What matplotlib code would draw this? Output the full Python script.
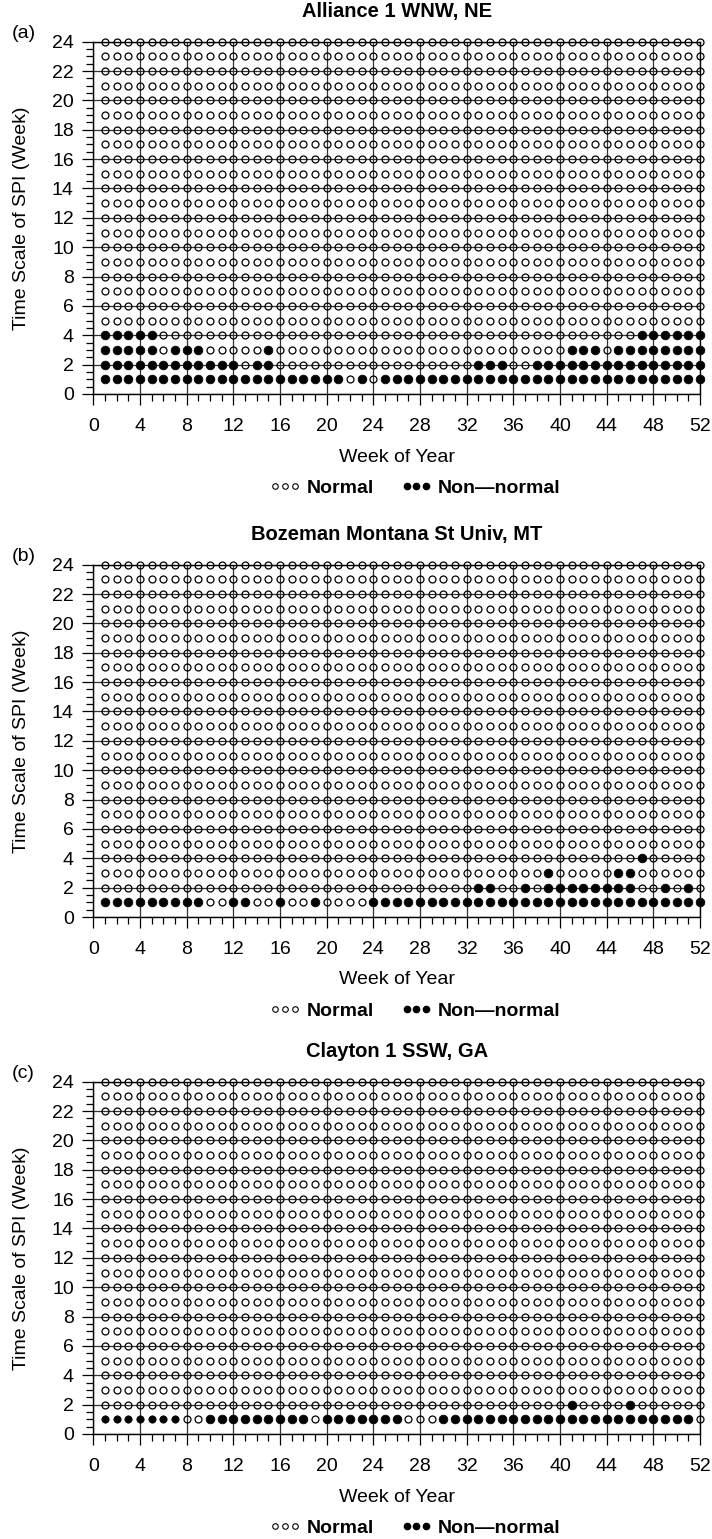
import matplotlib
matplotlib.use("Agg")
import matplotlib.pyplot as plt
from matplotlib.lines import Line2D
from matplotlib.ticker import MultipleLocator

plt.rcParams['font.family'] = ['Liberation Sans', 'DejaVu Sans']

# ---------------- data ----------------
weeks = list(range(1, 53))          # week of year
time_scales = list(range(1, 25))    # time scale of SPI (week)

panel_labels = ["(a)", "(b)", "(c)"]
titles = ["Alliance 1 WNW, NE", "Bozeman Montana St Univ, MT", "Clayton 1 SSW, GA"]
x_ticks = list(range(0, 53, 4))
y_ticks = list(range(0, 25, 2))
legend_labels = ["Normal", "Non\u2014normal"]


def span(a, b):
    return list(range(a, b + 1))


# weeks flagged non-normal, per SPI time scale (all other cells are normal)
a_scale1 = span(1, 21) + [23] + span(25, 52)
a_scale2 = span(1, 12) + [14, 15, 33, 34, 35] + span(38, 52)
a_scale3 = span(1, 5) + [7, 8, 9, 15, 41, 42, 43] + span(45, 52)
a_scale4 = span(1, 5) + span(47, 52)

b_scale1 = span(1, 9) + [12, 13, 16, 19] + span(24, 52)
b_scale2 = [33, 34, 37] + span(39, 46) + [49, 51]
b_scale3 = [39, 45, 46]
b_scale4 = [47]

c_scale1 = span(1, 7) + span(10, 18) + span(20, 26) + span(30, 51)
c_scale2 = [41, 46]
c_scale3 = []
c_scale4 = []

panels = [
    {1: a_scale1, 2: a_scale2, 3: a_scale3, 4: a_scale4},
    {1: b_scale1, 2: b_scale2, 3: b_scale3, 4: b_scale4},
    {1: c_scale1, 2: c_scale2, 3: c_scale3, 4: c_scale4},
]

# ---------------- style ----------------
# in panel (c) the first filled dots of the 1-week row are printed smaller
small_dot_cells = {2: [(w, 1) for w in span(1, 7)]}

# ---------------- layout ----------------
W, H = 712, 1539
fig = plt.figure(figsize=(W / 100, H / 100), dpi=100)

# (top, bottom) of each axes in pixels
ax_px = [(41.7, 394), (564.7, 917), (1081.7, 1434)]
left_px, right_px = 93.3, 700
FS = 14

for i, (top, bot) in enumerate(ax_px):
    ax = fig.add_axes([left_px / W, 1 - bot / H, (right_px - left_px) / W, (bot - top) / H])
    nonnormal = panels[i]
    small = set(small_dot_cells.get(i, []))

    nx, ny, fx, fy, sx, sy = [], [], [], [], [], []
    for s in time_scales:
        flagged = set(nonnormal.get(s, []))
        for w in weeks:
            if w in flagged:
                if (w, s) in small:
                    sx.append(w); sy.append(s)
                else:
                    fx.append(w); fy.append(s)
            else:
                nx.append(w); ny.append(s)

    ax.plot(nx, ny, 'o', ms=5.0, mfc='none', mec='black', mew=0.9,
            clip_on=False, zorder=3, ls='none')
    ax.plot(fx, fy, 'o', ms=6.3, mfc='black', mec='black', mew=0.5,
            clip_on=False, zorder=3, ls='none')
    if sx:
        ax.plot(sx, sy, 'o', ms=5.3, mfc='black', mec='black', mew=0.5,
                clip_on=False, zorder=3, ls='none')

    ax.set_xlim(0, 52)
    ax.set_ylim(0, 24)
    ax.set_xticks(x_ticks)
    ax.set_yticks(y_ticks)
    ax.xaxis.set_minor_locator(MultipleLocator(1))
    ax.yaxis.set_minor_locator(MultipleLocator(0.5))
    ax.tick_params(which='both', direction='out', top=False, right=False,
                   labelsize=FS, width=0.9, color='black')
    ax.tick_params(which='major', length=8)
    ax.tick_params(axis='x', which='major', pad=9)
    ax.tick_params(axis='y', which='major', pad=6)
    ax.tick_params(which='minor', length=5)
    ax.grid(which='major', color='0.2', lw=0.9, zorder=1)
    ax.set_axisbelow(True)
    for sp in ax.spines.values():
        sp.set_linewidth(1.0)

    ax.set_title(titles[i], fontsize=14.5, fontweight='bold', pad=18)
    ax.text(-0.135, 1.0, panel_labels[i], transform=ax.transAxes, fontsize=FS,
            ha='left', va='bottom')
    ax.set_xlabel("Week of Year", fontsize=FS, labelpad=10)
    ax.set_ylabel("Time Scale of SPI (Week)", fontsize=FS)
    ax.yaxis.set_label_coords(-0.105, 0.5)

    handles = [
        Line2D([], [], ls='none', marker='o', ms=4, mfc='none', mec='black', mew=0.8),
        Line2D([], [], ls='none', marker='o', ms=4.5, mfc='black', mec='black'),
    ]
    ax.legend(handles, legend_labels, numpoints=3, loc='center',
              bbox_to_anchor=(0.53, -0.268), ncol=2, frameon=False,
              prop={'weight': 'bold', 'size': FS}, handlelength=1.6,
              handletextpad=0.3, columnspacing=1.4, borderaxespad=0)

fig.savefig("out.png", dpi=100)
